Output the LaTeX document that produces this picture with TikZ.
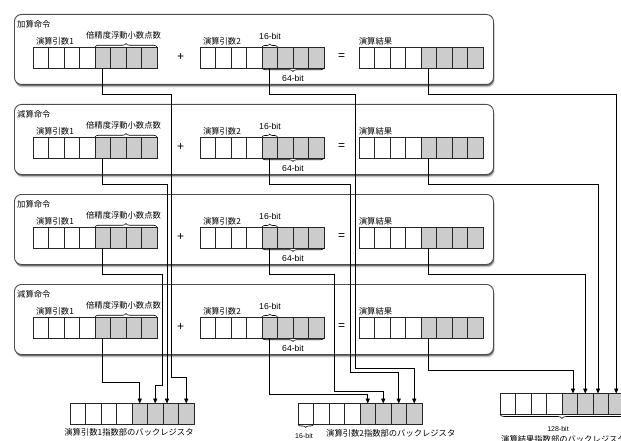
\documentclass[tikz,border=0pt]{standalone}
\usepackage{fontspec}
\newfontfamily\jp{Noto Sans CJK JP}
\newfontfamily\lat{Liberation Sans}
\usetikzlibrary{arrows.meta,decorations.pathreplacing,shadows}
\tikzset{
  regplain/.style={draw=black!85, line width=0.6pt, fill=white, minimum width=15.5pt, minimum height=21pt, inner sep=0pt, outer sep=0pt, anchor=north west},
  regshade/.style={regplain, fill=black!20},
  panel/.style={draw=black!70, line width=0.9pt, rounded corners=7pt, fill=white,
     minimum width=479pt, minimum height=70pt, anchor=north west, inner sep=0pt,
     drop shadow={shadow xshift=1.2pt, shadow yshift=-3pt, opacity=0.2, fill=black},
     drop shadow={shadow xshift=0.6pt, shadow yshift=-1.6pt, opacity=0.45, fill=black}},
  conn/.style={line width=0.8pt, draw=black},
  arr/.style={conn, -{Triangle[length=5pt,width=4.2pt]}},
  lbl/.style={font=\jp\fontsize{8.3}{10}\selectfont, inner sep=0pt},
  bitlbl/.style={font=\lat\fontsize{8.6}{10}\selectfont, inner sep=0pt},
  smallbit/.style={font=\lat\fontsize{7}{8}\selectfont, inner sep=0pt},
  brc/.style={decorate, decoration={brace, amplitude=3.5pt}, line width=0.6pt},
  opsym/.style={font=\lat\fontsize{12}{12}\selectfont, inner sep=0pt},
}
\newcommand{\regrow}[3]{%
  \foreach \i in {1,...,8}{%
    \ifnum\i>4 \def\cst{regshade}\else\def\cst{regplain}\fi
    \node[\cst] (#1\i) at ({#2+(\i-1)*15.5},{#3}) {};
  }}
\begin{document}
\begin{tikzpicture}[x=1pt,y=-1pt]
\useasboundingbox (0,0) rectangle (621,441);
\foreach \k/\lab in {1/加算命令,2/減算命令,3/加算命令,4/減算命令}{
  \pgfmathsetmacro\T{14+90*(\k-1)}
  \node[panel] (panel\k) at (14,\T) {};
  \node[lbl, anchor=west] (title\k) at (17,\T+10) {\lab};
  \regrow{p\k a}{33}{\T+33}
  \regrow{p\k b}{200}{\T+33}
  \regrow{p\k c}{359}{\T+33}
  \node[lbl] (opa\k) at (55,\T+27) {演算引数1};
  \node[lbl] (fp\k) at (123.5,\T+21) {倍精度浮動小数点数};
  \node[lbl] (opb\k) at (222,\T+27) {演算引数2};
  \node[bitlbl] (sb\k) at (270,\T+22.5) {16-bit};
  \node[bitlbl] (sf\k) at (293,\T+64.5) {64-bit};
  \node[lbl] (res\k) at (375.5,\T+27.5) {演算結果};
  \node[opsym] (plus\k) at (180.7,\T+43) {+};
  \node[opsym] (eq\k) at (341.7,\T+43) {=};
  \draw[brc] (p\k a5.north west) -- (p\k a8.north east);
  \draw[brc, decoration={amplitude=3pt}] (p\k b5.north west) -- (p\k b5.north east);
  \draw[brc] (p\k b8.south east) -- (p\k b5.south west);
}
% bottom registers
\regrow{ba}{70}{403.5}
\regrow{bb}{298}{403.5}
\regrow{bc}{500}{393.5}
\node[lbl] (lba) at (129,432) {演算引数1指数部のバックレジスタ};
\node[lbl, anchor=west] (lbb) at (326,433) {演算引数2指数部のバックレジスタ};
\draw[brc, decoration={amplitude=3pt}] (bb1.south east) -- (bb1.south west);
\node[smallbit] (sbb) at (304,436) {16-bit};
\draw[brc, decoration={amplitude=4pt}] (bc8.south east) -- (bc1.south west);
\node[smallbit] (lbit) at (558,429) {128-bit};
\node[lbl, anchor=west] (lbc) at (501,439) {演算結果指数部のバックレジスタ};
% connectors: operand 1
\draw[arr] (p1a5.south) |- (171,94) -- (171,377) -| (ba8.north);
\draw[arr] (p2a5.south) |- (167,184) -- (ba7.north -| 167,0);
\draw[arr] (p3a5.south) |- (162,274) -- (162,385) -| (ba6.north);
\draw[arr] (p4a5.south) -- (p4a5.south |- 0,382) -| (ba5.north);
% operand 2
\draw[arr] (p1b5.south) |- (355,94) -- (355,368) -| (bb8.north);
\draw[arr] (p2b5.south) |- (350,184) -- (350,372) -| (bb7.north);
\draw[arr] (p3b5.south) |- (334,274) -- (334,391) -| (bb6.north);
\draw[arr] (p4b5.south) -- (p4b5.south |- 0,394) -| (bb5.north);
% result
\draw[arr] (p1c5.south) -- (p1c5.south |- 0,94) -| (bc8.north);
\draw[arr] (p2c5.south) -- (p2c5.south |- 0,184) -| (bc7.north -| 598,0);
\draw[arr] (p3c5.south) -- (p3c5.south |- 0,274) -| (bc6.north);
\draw[arr] (p4c5.south) -- (p4c5.south |- 0,370) -| (bc5.north -| 573,0);
\end{tikzpicture}
\end{document}
